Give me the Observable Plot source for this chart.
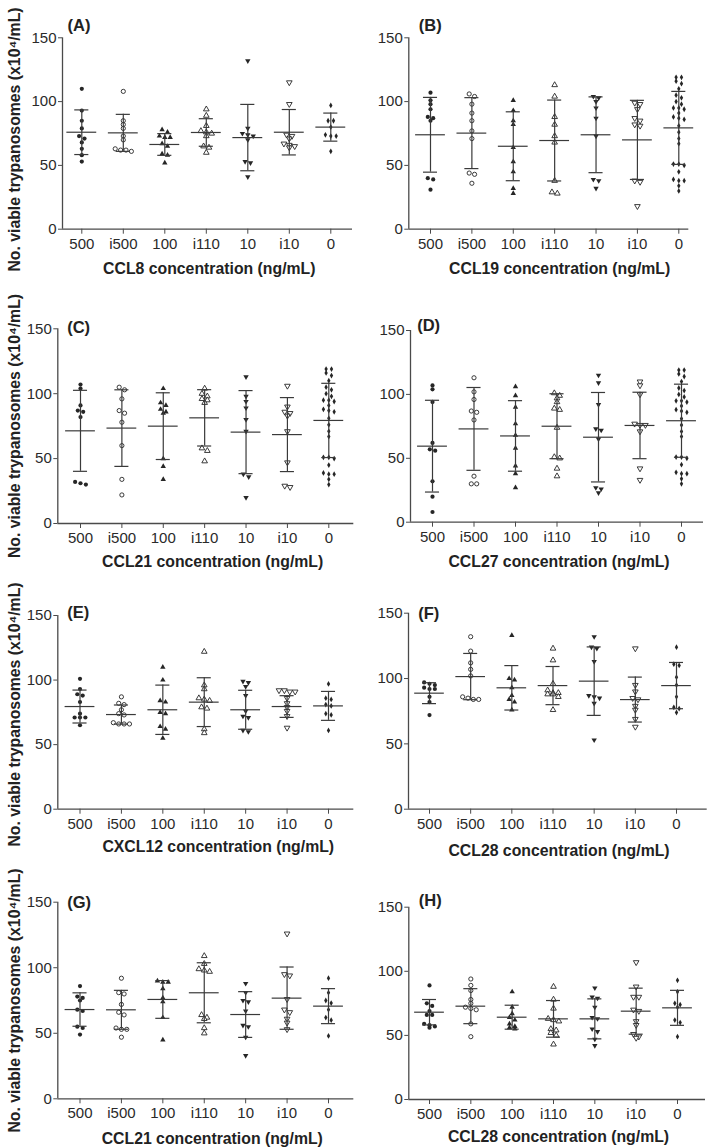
<!DOCTYPE html>
<html><head><meta charset="utf-8">
<script src="https://cdn.jsdelivr.net/npm/d3@7"></script>
<script src="https://cdn.jsdelivr.net/npm/@observablehq/plot@0.6"></script>
<style>
body{margin:0;background:#fff;}
#wrap{position:relative;width:709px;height:1148px;overflow:hidden;background:#fff;}
#wrap svg{position:absolute;}
</style></head><body><div id="wrap"></div>
<script>
// ---------- data ----------
const categories = ["500","i500","100","i110","10","i10","0"];
const yTicks = [0, 50, 100, 150];
const panelLabels = ["(A)","(B)","(C)","(D)","(E)","(F)","(G)","(H)"];
const xTitles = ["CCL8 concentration (ng/mL)","CCL19 concentration (ng/mL)","CCL21 concentration (ng/mL)","CCL27 concentration (ng/mL)","CXCL12 concentration (ng/mL)","CCL28 concentration (ng/mL)","CCL21 concentration (ng/mL)","CCL28 concentration (ng/mL)"];
const yTitle = "No. viable trypanosomes (x10⁴/mL)";

const ctrl0 = [119,119,116,114,110,105,103,100,98,95,95,94,91,88,87,86,81,76,71,67,51,51,50,45,39,38,38,34,30];

const valuesA = [
  [110,93,85,79,73,71,68,63,58,53],
  [108,85,82,79,73,70,63,62,62,61],
  [78,76,73,72,72,67,65,59,58,52],
  [94,89,81,77,76,75,73,65,64,60],
  [132,79,75,74,73,70,53,52,41],
  [115,98,74,73,71,67,66,65,64],
  [97,85,85,80,74,73,73,61]
];
const valuesB = [
  [107,101,98,94,88,87,85,40,39,31],
  [106,104,98,91,85,77,71,44,43,36],
  [101,93,85,82,64,53,45,32,28],
  [113,104,88,82,73,68,38,29,28],
  [104,103,100,95,87,73,39,38,32],
  [99,98,94,87,85,82,81,38,37,18],
  ctrl0
];
const valuesC = [
  [107,104,91,87,86,82,32,31,30],
  [105,103,96,87,85,78,60,34,22],
  [104,93,91,88,86,85,50,44,34],
  [104,100,98,96,95,93,58,56,48],
  [113,98,94,89,80,71,38,36,20],
  [106,90,86,85,83,71,47,29,28],
  ctrl0
];
const valuesD = [
  [107,104,94,62,57,56,32,20,8],
  [113,102,96,87,86,80,36,30,30],
  [106,99,90,77,68,58,44,38,27],
  [101,99,97,94,89,88,74,51,50,42,36],
  [115,109,92,73,72,65,27,26,23],
  [110,107,100,77,76,76,71,42,33],
  ctrl0
];
const valuesE = [
  [101,93,89,88,83,74,71,71,71,65],
  [87,82,81,77,74,73,67,66,66,66],
  [110,100,84,83,75,74,64,62,55],
  [122,96,93,86,85,84,79,78,62,59],
  [99,98,95,88,76,72,71,61,60],
  [92,92,91,91,86,82,79,76,72,63],
  [97,86,85,81,80,74,73,61]
];
const valuesF = [
  [97,96,95,93,92,92,86,82,72],
  [132,121,112,107,102,86,85,84,84],
  [133,100,99,93,87,84,82,76],
  [123,114,96,91,89,89,88,88,86,76],
  [132,124,123,113,87,86,85,81,53],
  [123,95,90,85,84,79,76,69,63],
  [124,111,110,101,95,86,78,77,74]
];
const valuesG = [
  [86,78,77,75,68,67,55,54,49],
  [92,81,80,72,66,64,54,53,53,47],
  [90,89,89,84,77,74,62,45],
  [109,103,99,98,97,64,62,61,54,50],
  [88,81,75,74,67,56,55,47,33],
  [126,95,94,76,68,66,61,58,53],
  [92,81,75,73,68,62,60,48]
];
const valuesH = [
  [89,75,73,69,66,66,59,58,57,56],
  [94,89,85,78,75,72,71,70,59,49],
  [84,72,67,64,62,59,57,56,55],
  [88,78,71,63,62,61,55,54,52,50,43],
  [87,80,79,72,64,63,55,53,47,42],
  [107,88,80,80,70,69,61,58,51,49,48],
  [93,84,75,74,72,62,60,49]
];

const meanA = [76,75.5,66.4,75.8,71.8,76,80],      sdA = [17.5,14.5,8.5,10.8,26,17.8,11];
const meanB = [74,75.3,65,69.5,74,70,79.4],        sdB = [29.3,27.8,27,31.7,29.7,31,28.6];
const meanC = [71.4,73.5,75,81.4,70.4,68.5,79.4],  sdC = [31.2,29.5,25.7,21.7,32,28.5,28.6];
const meanD = [59.5,73,67.5,75.1,66.5,75.7,79.4],  sdD = [35.9,32.4,27.6,25.4,35,26,28.6];
const meanE = [79.5,73.3,77,82.9,77,79.5,80],      sdE = [12.75,7.4,19.1,18.9,15.1,8.4,11.2];
const meanF = [88.8,101.5,92.9,94.6,98,83.9,94.6], sdF = [8,17.7,17,14.6,26.2,17.2,17.7];
const meanG = [68.1,67.9,75.8,80.9,64.3,76.8,70.7],sdG = [12.75,14.85,14.4,22.9,17.45,23.75,13.35];
const meanH = [68.1,72.8,64.2,62.9,62.9,68.9,71.5],sdH = [9.9,13.65,9.35,14.3,15.6,17.95,13.65];

const panelValues = [valuesA,valuesB,valuesC,valuesD,valuesE,valuesF,valuesG,valuesH];
const panelMeans = [meanA,meanB,meanC,meanD,meanE,meanF,meanG,meanH];
const panelSDs = [sdA,sdB,sdC,sdD,sdE,sdF,sdG,sdH];

// ---------- layout (pixel positions of each panel) ----------
const layout = [
  {box:[0,0,355,285],    ax:62,    yTop:37.3,  yBot:228.7, c0:81.3, c6:330.3, xEnd:352,   tDx:3,  tY:268.3,  lab:[5,-12],    yl:139},
  {box:[355,0,354,285],  ax:408.3, yTop:37.3,  yBot:228.7, c0:430,  c6:678.3, xEnd:688.3, tDx:5,  tY:268,    lab:[10,-12]},
  {box:[0,285,355,285],  ax:57.3,  yTop:328.3, yBot:523,   c0:80,   c6:328.3, xEnd:353.3, tDx:8,  tY:561.7,  lab:[9.4,-0.6], yl:425.5},
  {box:[355,285,354,285],ax:410,   yTop:330,   yBot:521.7, c0:432,  c6:681,   xEnd:703,   tDx:2,  tY:561.7,  lab:[6.7,-5]},
  {box:[0,570,355,285],  ax:57.3,  yTop:615,   yBot:808.7, c0:79.5, c6:328,   xEnd:353.3, tDx:14, tY:846.7,  lab:[9.4,-2.3], yl:714},
  {box:[355,570,354,285],ax:408,   yTop:612.7, yBot:808.7, c0:429,  c6:676,   xEnd:706.7, tDx:6,  tY:850,    lab:[9.7,0.6]},
  {box:[0,855,355,293],  ax:57.3,  yTop:901.7, yBot:1098.3,c0:79.5, c6:328,   xEnd:353.3, tDx:8,  tY:1138.3, lab:[9.4,1],    yl:1000},
  {box:[355,855,354,293],ax:408.3, yTop:906.7, yBot:1099,  c0:429,  c6:677,   xEnd:705,   tDx:5,  tY:1136.7, lab:[10,-6.7]}
];

const dark = "#262626";
const lineColor = "#3a3a3a";
const axisColor = "#4a4a4a";
const font = "'Liberation Sans', Arial, Helvetica, sans-serif";

const s3 = Math.sqrt(3);
const triDown = {draw(ctx, size){
  const y = -Math.sqrt(size / (s3 * 3));
  ctx.moveTo(0, -y * 2); ctx.lineTo(-s3 * y, y); ctx.lineTo(s3 * y, y); ctx.closePath();
}};
const styles = [
  {symbol:"circle",   fill:dark,    r:2.1},
  {symbol:"circle",   fill:"white", stroke:dark, strokeWidth:0.9, r:2.1},
  {symbol:"triangle", fill:dark,    r:2.0},
  {symbol:"triangle", fill:"white", stroke:dark, strokeWidth:0.9, r:2.1},
  {symbol:triDown,    fill:dark,    r:2.0},
  {symbol:triDown,    fill:"white", stroke:dark, strokeWidth:0.9, r:2.1},
  {symbol:"diamond",  fill:dark,    r:1.75}
];

// spread points with nearly equal values side by side (scatter-dot style)
function spread(vals, thr, sp){
  const s = vals.slice().sort((a,b)=>b-a);
  const out = []; let row = [];
  const flush = () => { row.forEach((v,k)=>out.push({v, off:(k-(row.length-1)/2)*sp})); row = []; };
  for (const v of s){ if (row.length && row[0] - v > thr) flush(); row.push(v); }
  flush();
  return out;
}

const wrap = document.getElementById("wrap");

layout.forEach((L, p) => {
  const [bx,by,bw,bh] = L.box;
  const step = (L.c6 - L.c0) / 6;
  const lo = -(L.c0 - L.ax) / step;
  const hi = 6 + (L.xEnd - L.c6) / step;
  const pts = [];
  panelValues[p].forEach((vals, i) => {
    spread(vals, 2.6, 0.13).forEach(d => pts.push({x: i + d.off, y: d.v, g: i}));
  });
  const stats = categories.map((c,i)=>({i, m: panelMeans[p][i], s: panelSDs[p][i]}));
  const marks = [
    Plot.ruleY([0], {stroke: axisColor, strokeWidth: 1.3}),
    Plot.ruleX([lo], {y1: 0, y2: 150, stroke: axisColor, strokeWidth: 1.3}),
    Plot.axisX({ticks: d3.range(7), tickFormat: i => categories[i], tickSize: 5, tickPadding: 4, fontSize: 15, label: null, stroke: axisColor}),
    Plot.axisY({ticks: yTicks, tickSize: 4, tickPadding: 2, fontSize: 15, label: null, stroke: axisColor}),
    ...styles.map((st, g) => Plot.dot(pts.filter(d => d.g === g), {x: "x", y: "y", ...st})),
    Plot.ruleY(stats, {y: "m", x1: d => d.i - 0.36, x2: d => d.i + 0.36, stroke: lineColor, strokeWidth: 1.2}),
    Plot.ruleX(stats, {x: "i", y1: d => d.m - d.s, y2: d => d.m + d.s, stroke: lineColor, strokeWidth: 1.2}),
    Plot.ruleY(stats, {y: d => d.m + d.s, x1: d => d.i - 0.17, x2: d => d.i + 0.17, stroke: lineColor, strokeWidth: 1.2}),
    Plot.ruleY(stats, {y: d => d.m - d.s, x1: d => d.i - 0.17, x2: d => d.i + 0.17, stroke: lineColor, strokeWidth: 1.2}),
    Plot.text([xTitles[p]], {x: [3], text: d => d, frameAnchor: "bottom", dx: L.tDx, dy: L.tY - L.yBot, lineAnchor: "middle", fontSize: 15.8, fontWeight: "bold", fill: "#222"}),
    Plot.text([panelLabels[p]], {text: d => d, frameAnchor: "top-left", dx: L.lab[0], dy: L.lab[1], textAnchor: "start", lineAnchor: "middle", fontSize: 16.5, fontWeight: "bold", fill: "#222"})
  ];
  if (L.yl !== undefined) {
    marks.push(Plot.text([yTitle], {text: d => d, frameAnchor: "left", rotate: -90, dx: 14 - (L.ax - bx), dy: L.yl - (L.yTop + L.yBot) / 2, textAnchor: "middle", lineAnchor: "middle", fontSize: 15.8, fontWeight: "bold", fill: "#222"}));
  }
  const svg = Plot.plot({
    width: bw, height: bh,
    marginLeft: L.ax - bx, marginRight: bx + bw - L.xEnd,
    marginTop: L.yTop - by, marginBottom: by + bh - L.yBot,
    x: {type: "linear", domain: [lo, hi]},
    y: {type: "linear", domain: [0, 150]},
    style: {fontFamily: font, color: "#2a2a2a", background: "transparent", overflow: "visible"},
    marks
  });
  svg.style.left = bx + "px";
  svg.style.top = by + "px";
  wrap.appendChild(svg);
});
</script>
</body></html>
